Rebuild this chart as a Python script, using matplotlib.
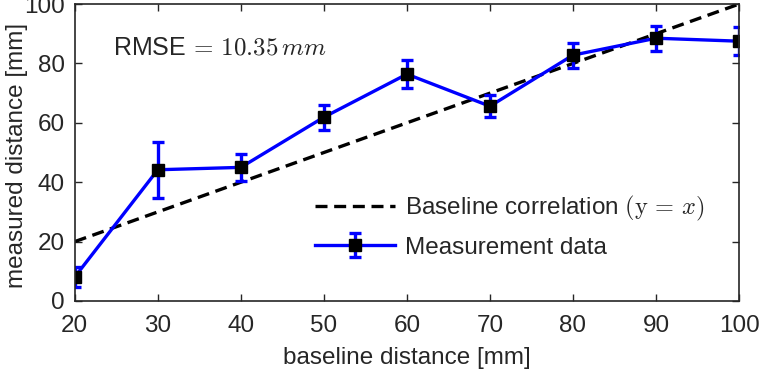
import matplotlib.pyplot as plt
import numpy as np

plt.rcParams["font.family"] = ["Liberation Sans", "DejaVu Sans"]
plt.rcParams["mathtext.fontset"] = "cm"

# baseline vs. measured distance (mm)
baseline_mm = [20, 30, 40, 50, 60, 70, 80, 90, 100]
measured_mm = [8.1, 44.2, 45.0, 61.9, 76.4, 65.6, 82.8, 88.5, 87.5]
measured_err = [3.4, 9.5, 4.6, 4.2, 4.7, 3.7, 4.2, 4.2, 4.8]
ideal_x = [20, 100]
rmse_text = r"RMSE$\,=\,10.35\,mm$"

FS = 17.5
fig = plt.figure(figsize=(7.63, 3.70), dpi=100)
ax = fig.add_axes([0.098, 0.1865, 0.8706, 0.8025])

ax.plot(ideal_x, ideal_x, color="black", linestyle=(0, (3.6, 2.0)), lw=2.4,
        label=r"Baseline correlation $(\mathrm{y}\,=\,x)$")
ax.errorbar(baseline_mm, measured_mm, yerr=measured_err, color="blue", lw=2.4,
            marker="s", markersize=9, markerfacecolor="black",
            markeredgecolor="black", ecolor="blue", elinewidth=2.4,
            capsize=4, capthick=2.4, label="Measurement data")

ax.set_xlim(20, 100)
ax.set_ylim(0, 100)
ax.set_xticks(range(20, 101, 10))
ax.set_yticks(range(0, 101, 20))
ax.tick_params(direction="in", top=True, right=True, labelsize=FS,
               length=5, width=1, colors="#262626", labelcolor="#262626", pad=7)
ax.tick_params(axis="x", pad=10)
for s in ax.spines.values():
    s.set_linewidth(1.2)
    s.set_color("#262626")

ax.set_xlabel("baseline distance [mm]", fontsize=FS, color="#262626", labelpad=7)
ax.set_ylabel("measured distance [mm]", fontsize=FS, color="#262626")
ax.yaxis.set_label_coords(-0.071, 0.49)

ax.text(0.057, 0.855, rmse_text, transform=ax.transAxes, fontsize=FS + 0.5,
        color="#262626", va="center", ha="left")

leg = ax.legend(loc="upper left", bbox_to_anchor=(0.361, 0.36), frameon=False,
                fontsize=FS, handlelength=3.3, handletextpad=0.4,
                labelspacing=0.55, borderpad=0, borderaxespad=0)
for t in leg.get_texts():
    t.set_color("#262626")

fig.savefig("out.png", dpi=100)
